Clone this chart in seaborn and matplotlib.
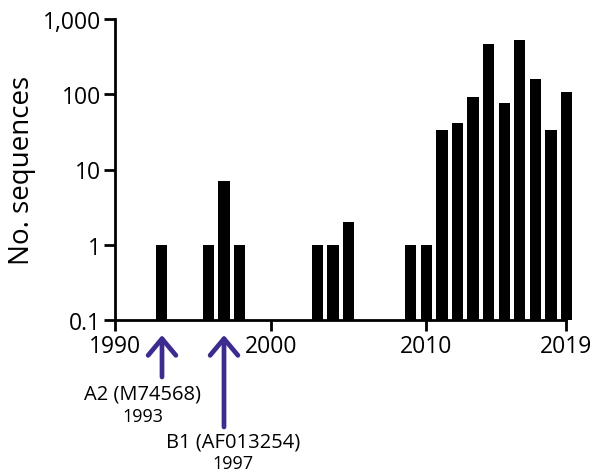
import matplotlib
matplotlib.use("Agg")
import matplotlib.pyplot as plt
import seaborn as sns
import pandas as pd
from matplotlib.patches import FancyArrowPatch

years = [1993, 1996, 1997, 1998, 2003, 2004, 2005, 2009, 2010, 2011, 2012,
         2013, 2014, 2015, 2016, 2017, 2018, 2019]
counts = [1, 1, 7, 1, 1, 1, 2, 1, 1, 33, 41, 92, 470, 77, 525, 158, 34, 108]
ytick_vals = [0.1, 1, 10, 100, 1000]
ytick_labels = ["0.1", "1", "10", "100", "1,000"]
xtick_vals = [1990, 2000, 2010, 2019]
xtick_labels = ["1990", "2000", "2010", "2019"]
annot_years = [1993, 1997]
annot_labels = ["A2 (M74568)", "B1 (AF013254)"]
annot_year_text = ["1993", "1997"]

sns.set_theme(style="ticks")
plt.rcParams["font.family"] = ["Open Sans", "DejaVu Sans"]

W, H = 600, 477
fig = plt.figure(figsize=(W / 100, H / 100), dpi=100)
ax = fig.add_axes([115 / W, 1 - 321 / H, (573.5 - 115) / W, (321 - 20) / H])

df = pd.DataFrame({"year": years, "count": counts})
sns.barplot(data=df, x="year", y="count", native_scale=True, width=0.72,
            color="black", edgecolor="black", linewidth=0, ax=ax, errorbar=None)
ax.set_yscale("log")
ax.set_ylim(0.1, 1000)
ax.set_xlim(1990, 2019.45)
ax.set_yticks(ytick_vals)
ax.set_yticklabels(ytick_labels)
ax.minorticks_off()
ax.set_xticks(xtick_vals)
ax.set_xticklabels(xtick_labels)
ax.spines["top"].set_visible(False)
ax.spines["right"].set_visible(False)
for s in ["left", "bottom"]:
    ax.spines[s].set_linewidth(2)
    ax.spines[s].set_color("black")
ax.spines["bottom"].set_bounds(1990, 2019)
ax.tick_params(axis="both", width=2, length=8, labelsize=16.5, colors="black", pad=2)
ax.set_xlabel("")
ax.set_ylabel("No. sequences", fontsize=20, color="black", labelpad=5)

purple = "#3d2b8f"

def px(x, y):
    return (x / W, 1 - y / H)

arrow_specs = [(162, 378, 336), (224, 428, 336)]
for (x, y0, y1) in arrow_specs:
    a = FancyArrowPatch(px(x, y0), px(x, y1), transform=fig.transFigure,
                        arrowstyle="->,head_width=0.5,head_length=0.6",
                        mutation_scale=20, lw=3.4, color=purple,
                        shrinkA=0, shrinkB=0)
    fig.patches.append(a)

text_pos = [(143, 395, 417), (233, 443, 464)]
for (x, yl, yy), lab, yt in zip(text_pos, annot_labels, annot_year_text):
    fig.text(*px(x, yl), lab, ha="center", va="center", fontsize=14.5, color="black")
    fig.text(*px(x, yy), yt, ha="center", va="center", fontsize=13, color="black")

fig.savefig("out.png", dpi=100)
